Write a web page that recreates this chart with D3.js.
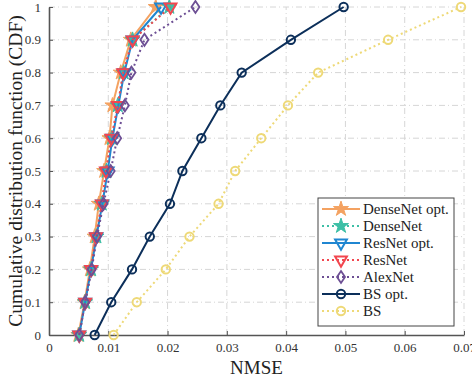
<!DOCTYPE html>
<html>
<head>
<meta charset="utf-8">
<script src="https://cdn.jsdelivr.net/npm/d3@7"></script>
<style>
  body { margin: 0; background: #fff; }
  text { font-family: "Liberation Serif", "DejaVu Serif", serif; }
</style>
</head>
<body>
<div id="chart"></div>
<script>
// CDF levels shared by all curves
const cdf = [0, 0.1, 0.2, 0.3, 0.4, 0.5, 0.6, 0.7, 0.8, 0.9, 1];

// NMSE values at each CDF level
const denseNetOpt = [0.00495, 0.0060, 0.0069, 0.0077, 0.0084, 0.0093, 0.0102, 0.0107, 0.0121, 0.0138, 0.0180];
const denseNet    = [0.0051, 0.0061, 0.0071, 0.0080, 0.0089, 0.0097, 0.0106, 0.0116, 0.0126, 0.0141, 0.0203];
const resNetOpt   = [0.0051, 0.0061, 0.0071, 0.0080, 0.0090, 0.0099, 0.0107, 0.0117, 0.0127, 0.0141, 0.0189];
const resNet      = [0.0051, 0.0061, 0.0071, 0.0079, 0.0089, 0.0096, 0.0105, 0.0116, 0.0125, 0.0141, 0.0205];
const alexNet     = [0.0051, 0.0061, 0.0072, 0.0081, 0.0092, 0.0104, 0.0115, 0.0128, 0.0139, 0.0161, 0.0247];
const bsOpt       = [0.0077, 0.0105, 0.0140, 0.0170, 0.0204, 0.0225, 0.0257, 0.0289, 0.0325, 0.0408, 0.0497];
const bs          = [0.0109, 0.0148, 0.0197, 0.0237, 0.0286, 0.0314, 0.0358, 0.0403, 0.0454, 0.0572, 0.0695];

const xTicks = [0, 0.01, 0.02, 0.03, 0.04, 0.05, 0.06, 0.07];
const yTicks = [0, 0.1, 0.2, 0.3, 0.4, 0.5, 0.6, 0.7, 0.8, 0.9, 1];

const series = [
  { name: 'DenseNet opt.', values: denseNetOpt, color: '#f4a261', dash: null, marker: 'star' },
  { name: 'DenseNet',      values: denseNet,    color: '#3dbfa6', dash: '2,3', marker: 'star' },
  { name: 'ResNet opt.',   values: resNetOpt,   color: '#1f86d1', dash: null, marker: 'tri' },
  { name: 'ResNet',        values: resNet,      color: '#f2464f', dash: '2,3', marker: 'tri' },
  { name: 'AlexNet',       values: alexNet,     color: '#6d4f94', dash: '2,3', marker: 'diamond' },
  { name: 'BS opt.',       values: bsOpt,       color: '#0c2f5a', dash: null, marker: 'circle' },
  { name: 'BS',            values: bs,          color: '#eed977', dash: '2,3', marker: 'circle' }
];

const width = 472, height = 380;
const margin = { top: 7, right: 8, bottom: 45, left: 49 };

const svg = d3.select('#chart').append('svg')
  .attr('width', width)
  .attr('height', height);

const x = d3.scaleLinear().domain([0, 0.07]).range([margin.left, width - margin.right]);
const y = d3.scaleLinear().domain([0, 1]).range([height - margin.bottom, margin.top]);

// grid
const grid = svg.append('g');
grid.selectAll('.vg').data(xTicks.slice(1)).enter().append('line')
  .attr('x1', d => x(d)).attr('x2', d => x(d))
  .attr('y1', y(0)).attr('y2', y(1))
  .attr('stroke', '#d6d6d6').attr('stroke-width', 1)
  .attr('stroke-dasharray', '6,3,1,3');
grid.selectAll('.hg').data(yTicks.slice(1)).enter().append('line')
  .attr('x1', x(0)).attr('x2', x(0.07))
  .attr('y1', d => y(d)).attr('y2', d => y(d))
  .attr('stroke', '#d6d6d6').attr('stroke-width', 1)
  .attr('stroke-dasharray', '6,3,1,3');

// axes
const xAxis = svg.append('g')
  .attr('transform', `translate(0,${y(0)})`)
  .call(d3.axisBottom(x).tickValues(xTicks).tickSizeInner(-4).tickSizeOuter(0).tickPadding(8)
    .tickFormat(d => d === 0 ? '0' : d3.format('.2f')(d)));
const yAxis = svg.append('g')
  .attr('transform', `translate(${x(0)},0)`)
  .call(d3.axisLeft(y).tickValues(yTicks).tickSizeInner(-4).tickSizeOuter(0).tickPadding(8)
    .tickFormat(d => d === 0 || d === 1 ? String(d) : d3.format('.1f')(d)));

[xAxis, yAxis].forEach(a => {
  a.select('.domain').attr('stroke', '#555').attr('stroke-width', 1.6);
  a.selectAll('.tick line').attr('stroke', '#555');
  a.selectAll('.tick text').attr('fill', '#333').style('font-size', '13px')
    .style('font-family', '"Liberation Serif", serif');
});

svg.append('text')
  .attr('x', x(0.035)).attr('y', 374)
  .attr('text-anchor', 'middle')
  .attr('fill', '#222')
  .style('font-size', '19px')
  .text('NMSE');

svg.append('text')
  .attr('transform', `translate(22,${y(0.5)}) rotate(-90)`)
  .attr('text-anchor', 'middle')
  .attr('fill', '#222')
  .style('font-size', '19.5px')
  .text('Cumulative distribution function (CDF)');

const starPath = d3.symbol().type(d3.symbolStar).size(70)();
const triPath = d3.symbol().type(d3.symbolTriangle).size(60)();
const circlePath = d3.symbol().type(d3.symbolCircle).size(55)();
const diamondPath = 'M0,-6L4,0L0,6L-4,0Z';

function drawMarker(g, s) {
  if (s.marker === 'star') {
    g.append('path').attr('d', starPath).attr('fill', s.color).attr('stroke', s.color).attr('stroke-width', 1);
  } else if (s.marker === 'tri') {
    g.append('path').attr('d', triPath).attr('transform', 'rotate(180)')
      .attr('fill', '#fff').attr('fill-opacity', 0).attr('stroke', s.color).attr('stroke-width', 2);
  } else if (s.marker === 'diamond') {
    g.append('path').attr('d', diamondPath)
      .attr('fill', 'none').attr('stroke', s.color).attr('stroke-width', 1.8);
  } else {
    g.append('path').attr('d', circlePath)
      .attr('fill', 'none').attr('stroke', s.color).attr('stroke-width', 2);
  }
}

const line = d3.line().x(d => x(d[0])).y(d => y(d[1]));

series.forEach(s => {
  const pts = s.values.map((v, i) => [v, cdf[i]]);
  svg.append('path')
    .datum(pts)
    .attr('d', line)
    .attr('fill', 'none')
    .attr('stroke', s.color)
    .attr('stroke-width', 2)
    .attr('stroke-dasharray', s.dash);
  pts.forEach(p => {
    const g = svg.append('g').attr('transform', `translate(${x(p[0])},${y(p[1])})`);
    drawMarker(g, s);
  });
});

// legend
const lg = svg.append('g').attr('transform', 'translate(318,198)');
lg.append('rect')
  .attr('width', 136).attr('height', 128)
  .attr('fill', '#fff').attr('stroke', '#444').attr('stroke-width', 1);
series.forEach((s, i) => {
  const yy = 11 + i * 17;
  lg.append('line')
    .attr('x1', 4).attr('x2', 42).attr('y1', yy).attr('y2', yy)
    .attr('stroke', s.color).attr('stroke-width', 2)
    .attr('stroke-dasharray', s.dash);
  drawMarker(lg.append('g').attr('transform', `translate(23,${yy})`), s);
  lg.append('text')
    .attr('x', 45).attr('y', yy + 5)
    .attr('fill', '#222')
    .style('font-size', '15px')
    .text(s.name);
});
</script>
</body>
</html>
